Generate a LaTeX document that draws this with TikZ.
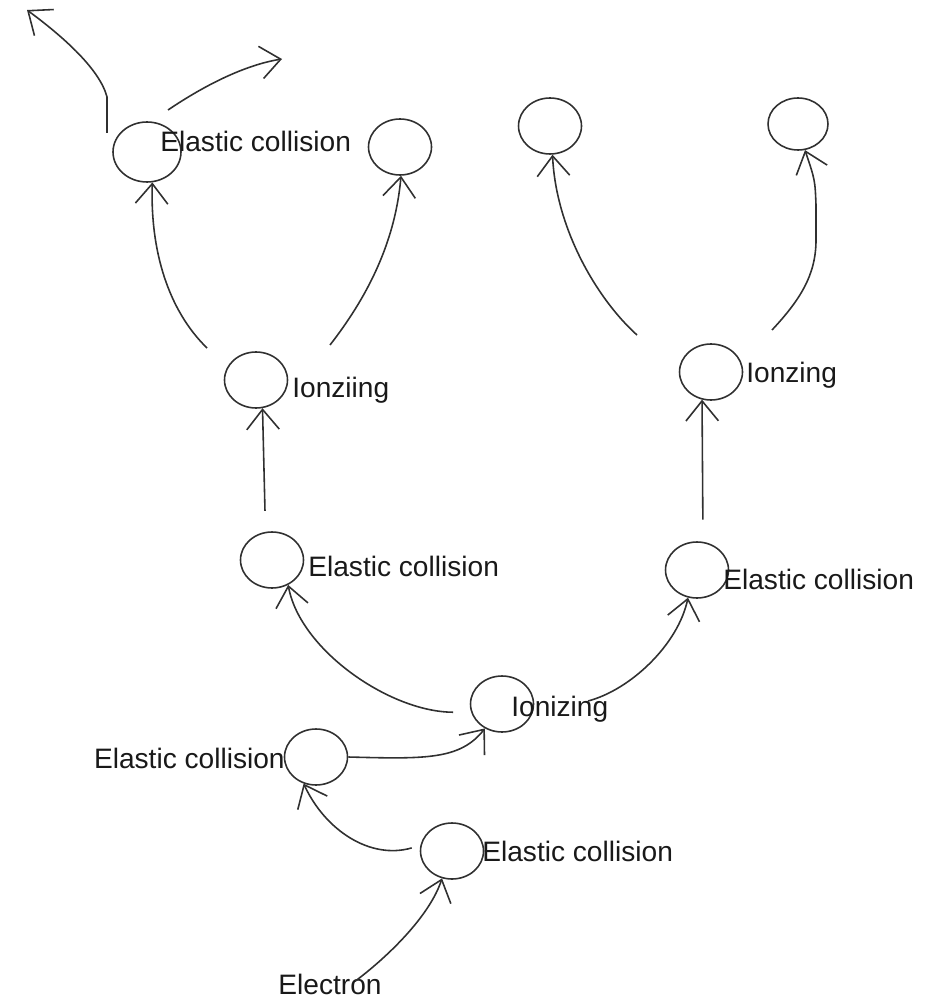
\documentclass[tikz,border=0pt]{standalone}
\usepackage{fontspec}
\setmainfont{Liberation Sans}
\usetikzlibrary{arrows.meta,shapes.geometric}
\definecolor{ink}{HTML}{303030}

\begin{document}
\begin{tikzpicture}[x=0.02cm,y=-0.02cm,
    ball/.style={draw=ink,ellipse,line width=0.9pt,inner sep=0pt,minimum width=1.26cm,minimum height=1.12cm},
    lbl/.style={inner sep=0pt,yshift=-0.08cm,text height=0.72em,text depth=0pt,text=black!90,font=\fontsize{16}{19}\selectfont},
    hand/.style={draw=ink,line width=0.9pt,-{Straight Barb[length=4mm,width=6.5mm]}}]
  \useasboundingbox (0,0) rectangle (925,1003);
  % circles
  \node[ball,minimum width=1.36cm,minimum height=1.2cm] (ec5) at (147,152) {};
  \node[ball] (c6) at (400,147) {};
  \node[ball] (c7) at (550,126) {};
  \node[ball,minimum width=1.2cm,minimum height=1.04cm] (c8) at (798,124) {};
  \node[ball] (ion2) at (256,380) {};
  \node[ball] (ion3) at (711,372) {};
  \node[ball] (ec3) at (272,560) {};
  \node[ball] (ec4) at (697,570) {};
  \node[ball] (ion1) at (502,704) {};
  \node[ball] (ec2) at (316,757) {};
  \node[ball] (ec1) at (452,851) {};
  % labels
  \node[lbl,anchor=west] (ec5-txt) at (160,141) {Elastic collision};
  \node[lbl,anchor=west] (ion2-txt) at (292,387) {Ionziing};
  \node[lbl,anchor=west] (ion3-txt) at (746,372) {Ionzing};
  \node[lbl,anchor=west] (ec3-txt) at (308,566) {Elastic collision};
  \node[lbl,anchor=west] (ec4-txt) at (723,579) {Elastic collision};
  \node[lbl,anchor=west] (ion1-txt) at (511,706) {Ionizing};
  \node[lbl,anchor=east] (ec2-txt) at (285,758) {Elastic collision};
  \node[lbl,anchor=west] (ec1-txt) at (482,851) {Elastic collision};
  \node[lbl] (elec) at (330,984) {Electron};
  % loose ends
  \coordinate (ion1-r) at (588,701);
  \coordinate (ion2-l) at (207,348);
  \coordinate (ion2-r) at (330,345);
  \coordinate (ion3-l) at (637,335);
  \coordinate (ion3-r) at (772,330);
  \coordinate (ec5-l) at (107,133);
  \coordinate (ec5-lt) at (27,10);
  \coordinate (ec5-r) at (168,110);
  \coordinate (ec5-rt) at (282,59);
  % paths
  \draw[hand] ([xshift=0.5cm]elec.north) .. controls (390,955) and (430,915) .. (ec1.250);
  \draw[hand,shorten <=0.18cm] (ec1.170) .. controls (370,860) and (325,830) .. (ec2.245);
  \draw[hand] (ec2.east) .. controls (425,759) and (460,760) .. (ion1.235);
  \draw[hand,shorten <=0.36cm] (ion1.195) .. controls (390,712) and (300,650) .. (ec3.303);
  \draw[hand] (ion1-r) .. controls (630,690) and (678,645) .. (ec4.252);
  \draw[hand,shorten <=0.42cm] (ec3.103) -- (ion2.283);
  \draw[hand] (ion2-l) .. controls (168,310) and (150,250) .. (ec5.280);
  \draw[hand] (ion2-r) .. controls (365,300) and (395,245) .. (c6.272);
  \draw[hand,shorten <=0.44cm] (ec4.78) -- (ion3.252);
  \draw[hand] (ion3-l) .. controls (598,300) and (556,230) .. (c7.275);
  \draw[hand] (ion3-r) .. controls (800,300) and (816,275) .. (816,240) -- (816,205) .. controls (815,180) .. (c8.285);
  \draw[hand] (ec5-l) -- (107,97) .. controls (100,70) and (65,38) .. (ec5-lt);
  \draw[hand] (ec5-r) .. controls (205,85) and (245,65) .. (ec5-rt);
\end{tikzpicture}
\end{document}
